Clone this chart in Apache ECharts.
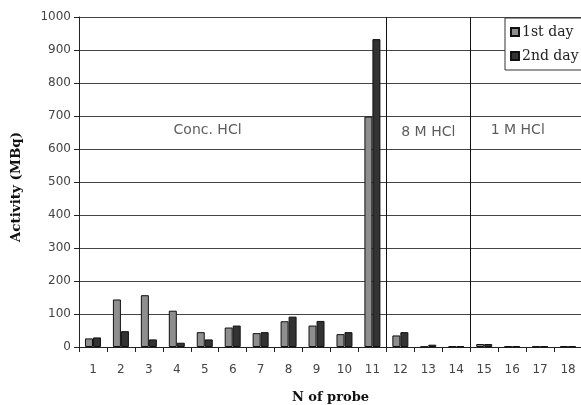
<!DOCTYPE html>
<html>
<head>
<meta charset="utf-8">
<script src="https://cdn.jsdelivr.net/npm/echarts@6/dist/echarts.min.js"></script>
<style>html,body{margin:0;padding:0;background:#fff}#c{width:581px;height:405px}</style>
</head>
<body>
<div id="c"></div>
<script>
const categories = ['1','2','3','4','5','6','7','8','9','10','11','12','13','14','15','16','17','18'];
const day1 = [26, 144, 157, 110, 45, 59, 42, 78, 65, 39, 698, 35, 1, 2, 9, 2, 2, 2];
const day2 = [29, 48, 23, 13, 23, 65, 45, 92, 79, 45, 933, 45, 7, 2, 9, 2, 2, 2];
const groupBoundaries = [11, 14];
const groupLabels = [
  { text: 'Conc. HCl', x: 4.6, y: 657 },
  { text: '8 M HCl', x: 12.5, y: 650 },
  { text: '1 M HCl', x: 15.7, y: 655 }
];
const yTicks = { min: 0, max: 1000, interval: 100 };

const chart = echarts.init(document.getElementById('c'));
const sans = 'DejaVu Sans';
const serif = 'DejaVu Serif';
chart.setOption({
  animation: false,
  backgroundColor: '#fff',
  grid: { left: 79, top: 17, bottom: 58, width: 503, containLabel: false, outerBoundsMode: 'none' },
  legend: {
    data: ['1st day', '2nd day'],
    orient: 'vertical',
    left: 505, top: 18,
    icon: 'rect',
    itemWidth: 8, itemHeight: 8, itemGap: 10,
    padding: [7, 8, 7, 5],
    backgroundColor: '#fff', borderColor: '#333', borderWidth: 1,
    textStyle: { fontFamily: serif, fontSize: 14, color: '#222', padding: [0, 0, 0, -2] }
  },
  xAxis: [{
    type: 'category', data: categories,
    axisLine: { lineStyle: { color: '#222', width: 1 } },
    axisTick: { show: true, length: 5, lineStyle: { color: '#222' } },
    axisLabel: { fontFamily: sans, fontSize: 12, color: '#444', margin: 17 },
    name: 'N of probe', nameLocation: 'middle', nameGap: 44,
    nameTextStyle: { fontFamily: serif, fontWeight: 'bold', fontSize: 13, color: '#111' }
  }, {
    type: 'value', min: 0, max: categories.length, show: false
  }],
  yAxis: {
    type: 'value', min: yTicks.min, max: yTicks.max, interval: yTicks.interval,
    axisLine: { show: true, lineStyle: { color: '#222' } },
    axisTick: { show: true, length: 5, lineStyle: { color: '#222' } },
    axisLabel: { fontFamily: sans, fontSize: 12, color: '#444', margin: 8, formatter: v => String(v) },
    splitLine: { lineStyle: { color: '#444', width: 1 } },
    name: 'Activity (MBq)', nameLocation: 'middle', nameGap: 56,
    nameTextStyle: { fontFamily: serif, fontWeight: 'bold', fontSize: 13.5, color: '#111', padding: [0, 0, 0, -10] }
  },
  series: [{
    name: '1st day', type: 'bar', data: day1, barWidth: 8, barGap: '0%',
    itemStyle: { color: '#8e8e8e', borderColor: '#111', borderWidth: 1 }
  }, {
    name: '2nd day', type: 'bar', data: day2, barWidth: 8, barGap: '0%',
    itemStyle: { color: '#333333', borderColor: '#111', borderWidth: 1 }
  }, {
    name: 'groups', type: 'scatter', xAxisIndex: 1, symbolSize: 0,
    data: groupLabels.map(g => ({ value: [g.x, g.y], name: g.text })),
    label: { show: true, position: 'inside', formatter: p => p.name,
      fontFamily: sans, fontSize: 14, color: '#333' },
    markLine: {
      silent: true, symbol: ['none', 'none'], label: { show: false },
      lineStyle: { color: '#111', width: 1, type: 'solid' },
      data: groupBoundaries.map(b => ({ xAxis: b }))
    }
  }]
});
</script>
</body>
</html>
